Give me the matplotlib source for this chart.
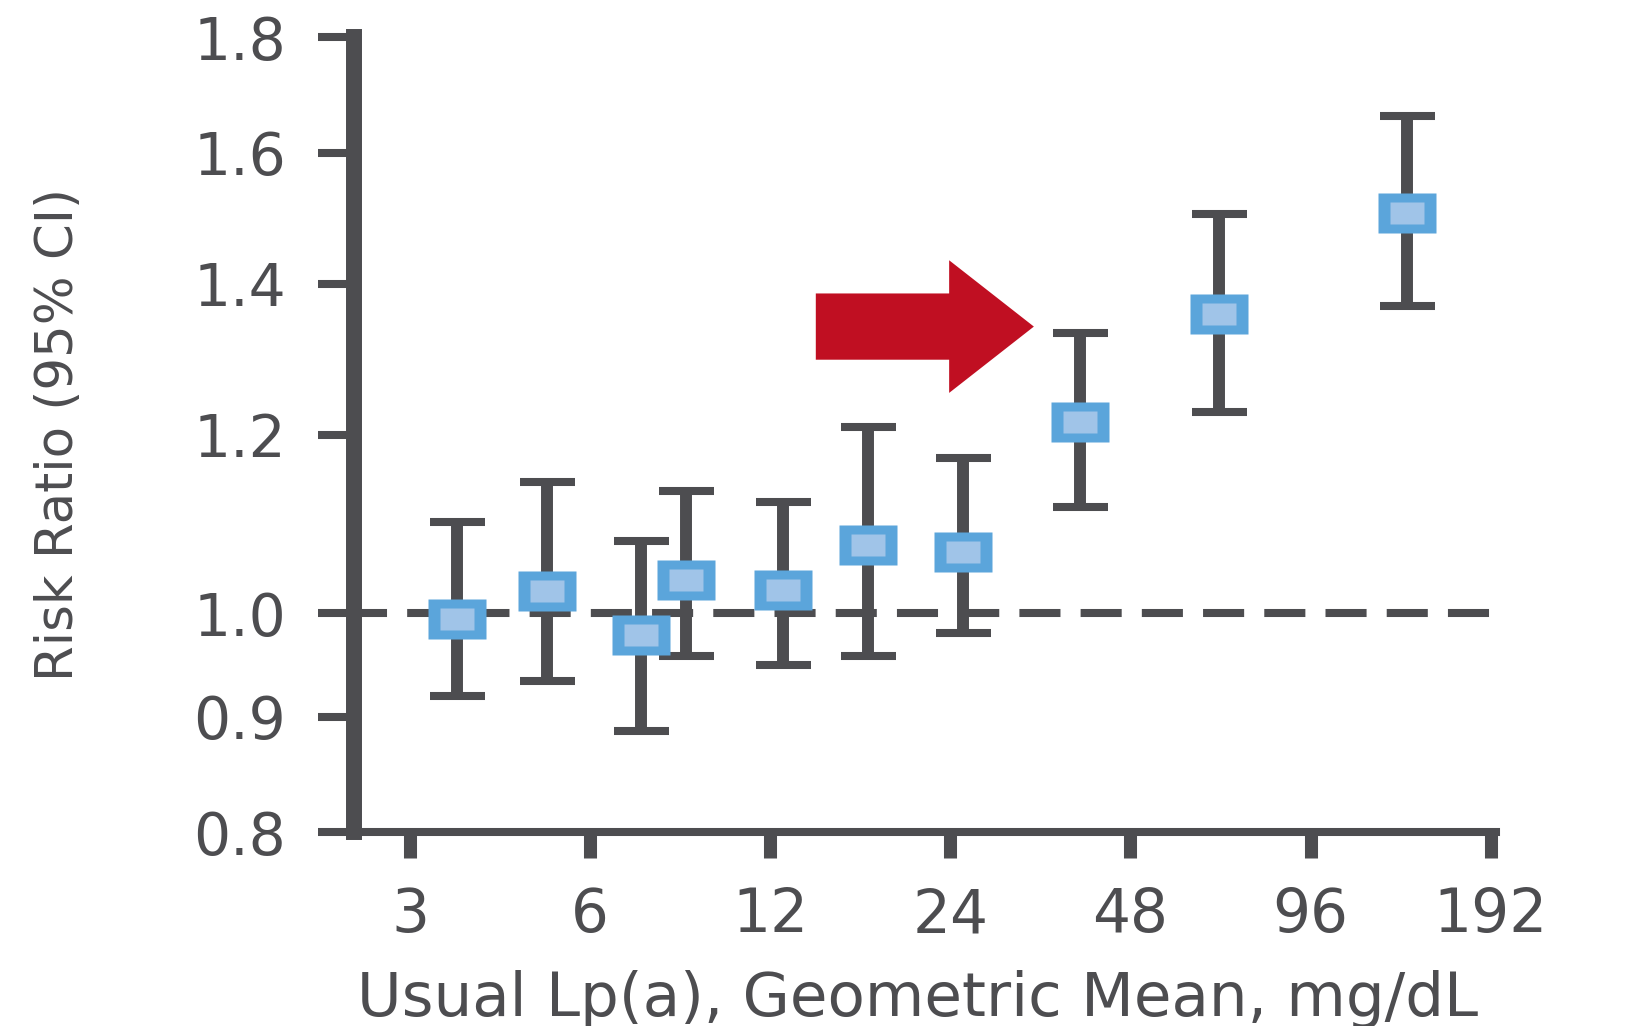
import matplotlib

matplotlib.use("Agg")
import matplotlib.pyplot as plt
from matplotlib import font_manager
from matplotlib.ticker import FixedLocator, NullLocator

# Lp(a) groups: geometric mean (mg/dL) and risk ratio with 95% CI
lpa_mean = [3.60, 5.08, 7.29, 8.69, 12.6, 17.5, 25.2, 39.6, 67.6, 139.3]
risk_ratio = [0.994, 1.023, 0.978, 1.035, 1.024, 1.072, 1.065, 1.216, 1.357, 1.504]
ci_low = [0.919, 0.933, 0.887, 0.958, 0.949, 0.958, 0.980, 1.115, 1.228, 1.369]
ci_high = [1.098, 1.143, 1.077, 1.133, 1.120, 1.209, 1.172, 1.331, 1.503, 1.661]

x_ticks = [3, 6, 12, 24, 48, 96, 192]
y_ticks = [0.8, 0.9, 1.0, 1.2, 1.4, 1.6, 1.8]
y_tick_labels = ["0.8", "0.9", "1.0", "1.2", "1.4", "1.6", "1.8"]

# red arrow pointing at the 48 mg/dL group
arrow_tail = (14.3, 1.34)
arrow_tip = (33.1, 1.34)

DARK = "#4d4d50"
BLUE = "#5ba5db"
LIGHT_BLUE = "#a0c4e8"
RED = "#c00f22"

# the y label in the original is set in a narrow face; use one if present
font_names = {f.name for f in font_manager.fontManager.ttflist}
if "Liberation Sans Narrow" in font_names:
    ylabel_font, ylabel_size = "Liberation Sans Narrow", 48
else:
    ylabel_font, ylabel_size = "DejaVu Sans", 37

fig = plt.figure(figsize=(16.32, 10.26), dpi=100)
ax = fig.add_axes([354 / 1632, 1 - 832.2 / 1026, 1142 / 1632, 794.9 / 1026])

ax.set_xscale("log", base=2)
ax.set_yscale("log")
ax.set_xlim(2.418, 196)
ax.set_ylim(0.8, 1.8)

# reference line at RR = 1
ax.axhline(1.0, color=DARK, lw=5.8, ls=(1.0, (5.1, 2.5)), zorder=1)

yerr = [
    [r - lo for r, lo in zip(risk_ratio, ci_low)],
    [hi - r for r, hi in zip(risk_ratio, ci_high)],
]
ax.errorbar(
    lpa_mean, risk_ratio, yerr=yerr, fmt="none", ecolor=DARK,
    elinewidth=8.6, capsize=19.8, capthick=5.8, zorder=2,
)

# rectangular markers: blue frame with a lighter fill
outer = [(-1, -0.69), (1, -0.69), (1, 0.69), (-1, 0.69), (-1, -0.69)]
inner = [(-1, -0.65), (1, -0.65), (1, 0.65), (-1, 0.65), (-1, -0.65)]
ax.plot(lpa_mean, risk_ratio, ls="none", marker=outer, ms=41.8,
        mfc=BLUE, mec="none", zorder=3)
ax.plot(lpa_mean, risk_ratio, ls="none", marker=inner, ms=24.5,
        mfc=LIGHT_BLUE, mec="none", zorder=4)

ax.annotate(
    "", xy=arrow_tip, xytext=arrow_tail,
    arrowprops=dict(
        arrowstyle="simple,head_length=61,head_width=95.5,tail_width=47.7",
        mutation_scale=1, color=RED, lw=0, shrinkA=0, shrinkB=0,
    ),
    zorder=5,
)

for side in ["top", "right"]:
    ax.spines[side].set_visible(False)
ax.spines["left"].set_linewidth(11.5)
ax.spines["left"].set_color(DARK)
ax.spines["bottom"].set_linewidth(5.8)
ax.spines["bottom"].set_color(DARK)

ax.xaxis.set_major_locator(FixedLocator(x_ticks))
ax.xaxis.set_minor_locator(NullLocator())
ax.set_xticklabels([str(t) for t in x_ticks])
ax.yaxis.set_major_locator(FixedLocator(y_ticks))
ax.yaxis.set_minor_locator(NullLocator())
ax.set_yticklabels(y_tick_labels)

ax.tick_params(axis="x", length=19, width=9.4, color=DARK, pad=20,
               labelsize=43, labelcolor=DARK)
ax.tick_params(axis="y", length=26, width=5.8, color=DARK, pad=23,
               labelsize=42, labelcolor=DARK)

ax.set_xlabel("Usual Lp(a), Geometric Mean, mg/dL", fontsize=44,
              color=DARK, va="baseline")
ax.xaxis.set_label_coords(0.4939, -0.2308)
ax.set_ylabel("Risk Ratio (95% CI)", fontsize=ylabel_size, color=DARK,
              family=ylabel_font, va="center", ha="center")
ax.yaxis.set_label_coords(-0.2583, 0.5)

fig.savefig("out.png", dpi=100)
